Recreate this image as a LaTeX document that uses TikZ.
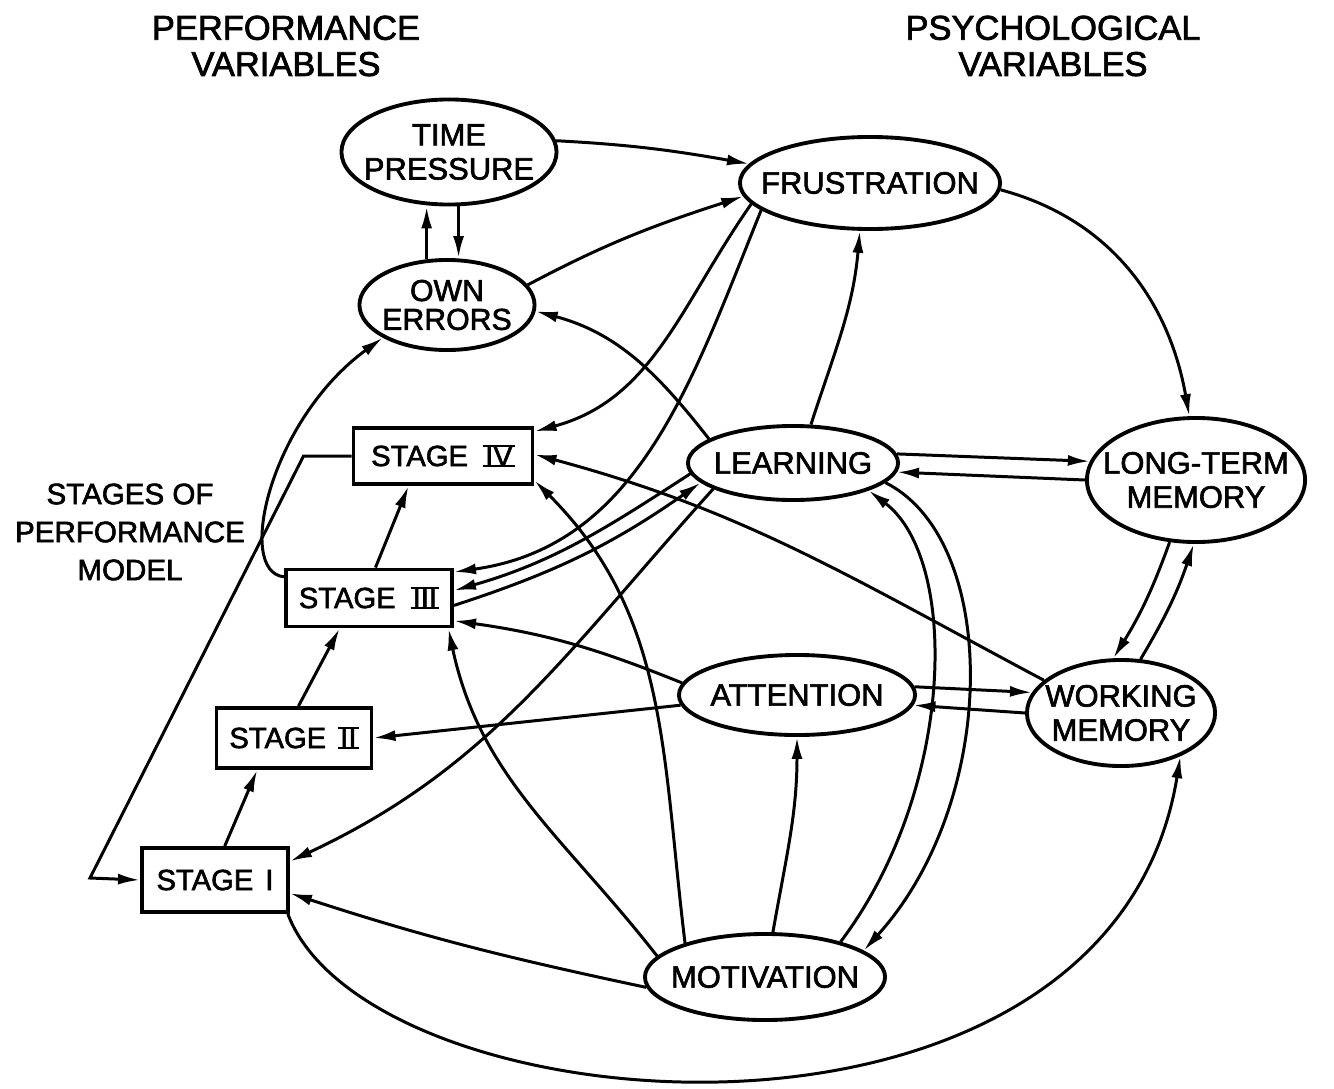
\documentclass[tikz,border=0pt]{standalone}
\usepackage{fontspec}
\setmainfont[FakeBold=2]{Liberation Sans}
\usetikzlibrary{positioning,shapes.geometric,arrows.meta}

\newcommand\lblfont{\fontsize{8.8}{9.7}\selectfont}
\newcommand\hdfont{\fontsize{9.8}{10.3}\selectfont}
\newcommand\stfont{\fontsize{8.4}{10.8}\selectfont}
\newcommand\boxfont{\fontsize{8.3}{10}\selectfont}
% roman numeral with bars on top and bottom
\newcommand\barnum[1]{\setbox0=\hbox{\kern0.6pt#1\kern0.6pt}\leavevmode\rlap{\rule[-0.4pt]{\wd0}{0.8pt}}\rlap{\rule[\dimexpr\ht0-0.4pt\relax]{\wd0}{0.8pt}}\box0}

\begin{document}
\begin{tikzpicture}[x=0.01cm, y=0.01cm,
    var/.style={draw, ellipse, line width=1.1pt, inner xsep=-6mm, inner ysep=-2mm, align=center, font=\lblfont},
    stagebox/.style={draw, rectangle, line width=1.1pt, inner sep=0pt, font=\boxfont},
    heading/.style={align=center, font=\hdfont},
    arrow/.style={-{Latex[length=2.2mm,width=1.1mm]}, line width=0.85pt}
]
\useasboundingbox (0,0) rectangle (1334,-1088);

% Headings
\node[heading] (perf) at (286,-46) {PERFORMANCE\\VARIABLES};
\node[heading] (psych) at (1053,-46) {PSYCHOLOGICAL\\VARIABLES};
\node[heading, font=\stfont] (model) at (130,-532) {STAGES OF\\PERFORMANCE\\MODEL};

% Variables
\node[var, minimum width=2.15cm, minimum height=1.05cm] (tp) at (449,-152) {TIME\\PRESSURE};
\node[var, minimum width=1.75cm, minimum height=0.9cm, font=\fontsize{8.6}{8.2}\selectfont] (oe) at (447,-305) {OWN\\ERRORS};
\node[var, minimum width=2.6cm, minimum height=0.92cm] (fr) at (870,-183) {FRUSTRATION};
\node[var, minimum width=2.1cm, minimum height=0.74cm] (le) at (793,-463) {LEARNING};
\node[var, minimum width=2.18cm, minimum height=1.24cm] (ltm) at (1196,-480) {LONG-TERM\\MEMORY};
\node[var, minimum width=2.36cm, minimum height=0.8cm] (at) at (797,-695) {ATTENTION};
\node[var, minimum width=1.88cm, minimum height=1.06cm] (wm) at (1121,-713) {WORKING\\MEMORY};
\node[var, minimum width=2.4cm, minimum height=0.86cm] (mo) at (765,-977) {MOTIVATION};

% Stages
\node[stagebox, minimum width=1.79cm, minimum height=0.56cm] (s4) at (443,-456) {STAGE\hspace{0.15cm}\barnum{IV}};
\node[stagebox, minimum width=1.66cm, minimum height=0.57cm] (s3) at (369,-598) {STAGE\hspace{0.15cm}\barnum{III}};
\node[stagebox, minimum width=1.55cm, minimum height=0.6cm] (s2) at (294,-738) {STAGE\hspace{0.12cm}\barnum{II}};
\node[stagebox, minimum width=1.46cm, minimum height=0.64cm] (s1) at (215,-880) {STAGE\hspace{0.12cm}I};
\coordinate (fb) at (90,-878);

% Arrows
\draw[arrow] (tp.6) to[out=-3, in=170] (fr.171);
\draw[arrow] (oe.114) -- (oe.114 |- tp.south);
\draw[arrow] (tp.-80) -- (tp.-80 |- oe.north);
\draw[arrow] (oe.14) to[out=28, in=198] (fr.186);
\draw[arrow] (le.164) to[out=128, in=-15] (oe.-4);
\draw[arrow] (fr.190) to[out=235, in=15] (s4.15);
\draw[arrow] (fr.194) to[out=248, in=8] (s3.17);
\draw[arrow] (le.186) to[out=213, in=16] (s3.5);
\draw[arrow] (s3.-5) to[out=18, in=215] (le.192);
\draw[arrow] (le.198) to[out=228, in=25] (s1.14);
\draw[arrow] (wm.157) to[out=152, in=-15] (s4.1);
\draw[arrow] (mo.157) to[out=97, in=-45] (s4.-15);
\draw[arrow] (mo.169) to[out=128, in=-78] (s3.-21);
\draw[arrow] (at.174) to[out=158, in=-8] (s3.-15);
\draw[arrow] (at.185) -- (s2.0);
\draw[arrow] (mo.185) to[out=168, in=-18] (s1.-10);
\draw[arrow] (s1.-25) .. controls (370,-1130) and (1110,-1190) .. (wm.-36);
\draw[arrow] (mo.80) to[out=80, in=-90] (at.-90);
\draw[arrow] (le.-12) .. controls (1000,-540) and (1000,-800) .. (mo.15);
\draw[arrow] (mo.25) .. controls (955,-790) and (960,-560) .. (le.-20);
\draw[arrow] (le.5) -- (ltm.170);
\draw[arrow] (ltm.180) -- (le.-5);
\draw[arrow] (ltm.-113) to[bend left=6] (wm.98);
\draw[arrow] (wm.70) to[bend right=6] (ltm.-92);
\draw[arrow] (at.4) -- (wm.167);
\draw[arrow] (wm.180) -- (at.-5);
\draw[arrow] (fr.-3) to[out=-15, in=100] (ltm.96);
\draw[arrow] (le.65) to[out=72, in=-95] (fr.-102);
\draw[arrow] (s3.166) .. controls (235,-572) and (270,-420) .. (oe.207);
\draw[arrow] (s4.west) -- ++(-48,0) -- (fb) -- (s1.west);
\draw[arrow] (s1.74) -- (s2.-139);
\draw[arrow] (s2.82) -- (s3.-134);
\draw[arrow] (s3.78) -- (s4.-139);

\end{tikzpicture}
\end{document}
